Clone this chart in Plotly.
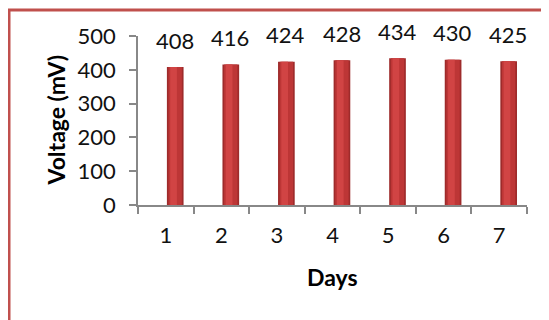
import plotly.graph_objects as go

days = ["1", "2", "3", "4", "5", "6", "7"]
voltage = [408, 416, 424, 428, 434, 430, 425]
y_ticks = [0, 100, 200, 300, 400, 500]

FONT = "Lato"
OFF = 8  # page body margin
W, H = 541, 312
L, R, T, B = 130, 22, 28, 115
pw, ph = W - L - R, H - T - B

def px_x(p):
    return (p - OFF - L) / pw

def px_y(p):
    return (H - B - (p - OFF)) / ph

fig = go.Figure()
# layered bars to imitate the cylinder shading
layers = [
    (0.30, 0.02, "#9E2B2B"),
    (0.24, 0.05, "#BD3636"),
    (0.12, 0.08, "#D14444"),
]
for width, off, col in layers:
    fig.add_trace(go.Bar(
        x=days, y=voltage, width=width, offset=off, marker=dict(color=col, line=dict(width=0)),
        hoverinfo="skip", showlegend=False,
    ))

for i, v in enumerate(voltage):
    fig.add_annotation(x=i, y=v, text=str(v), showarrow=False, xshift=9, yshift=27,
                       yanchor="middle", font=dict(family=FONT, size=22, color="#111111"))

fig.add_annotation(x=0.5, y=px_y(277), xref="paper", yref="paper", text="<b>Days</b>",
                   showarrow=False, font=dict(family=FONT, size=23, color="#000000"), yanchor="middle")
fig.add_annotation(x=px_x(55), y=0.5, xref="paper", yref="paper", text="<b>Voltage (mV)</b>",
                   showarrow=False, textangle=-90, font=dict(family=FONT, size=23, color="#000000"),
                   xanchor="center", yanchor="middle")

fig.add_shape(type="rect", xref="paper", yref="paper",
              x0=px_x(9), x1=px_x(620), y0=px_y(400), y1=px_y(10),
              line=dict(color="#C0504D", width=3), fillcolor="rgba(0,0,0,0)", layer="above")

fig.update_layout(
    width=W, height=H, barmode="overlay",
    margin=dict(l=L, r=R, t=T, b=B, autoexpand=False),
    paper_bgcolor="white", plot_bgcolor="white",
    font=dict(family=FONT, size=22, color="#111111"),
    showlegend=False,
)
fig.update_xaxes(type="category", tickson="boundaries", ticks="outside", ticklen=7, tickcolor="#888888",
                 tickwidth=1.5, showline=True, linecolor="#888888", linewidth=1.5, showgrid=False,
                 range=[-0.5, 6.5], ticklabelstandoff=10, zeroline=False)
fig.update_yaxes(range=[0, 500], tickvals=y_ticks, ticks="outside", ticklen=7, tickcolor="#888888",
                 tickwidth=1.5, showline=True, linecolor="#888888", linewidth=1.5, showgrid=False,
                 zeroline=False, ticklabelstandoff=9)

fig.write_html("out.html")
